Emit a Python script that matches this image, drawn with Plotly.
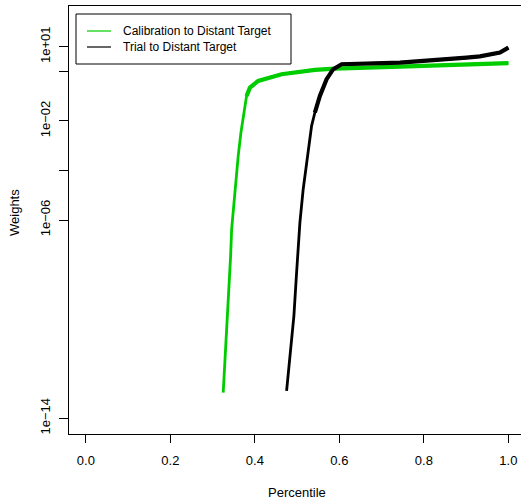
import plotly.graph_objects as go

# Data (percentile, weight)
calib_x = [0.325, 0.331, 0.337, 0.3425, 0.345, 0.3527, 0.3605, 0.3669, 0.3723,
           0.3803, 0.3882, 0.4078, 0.4632, 0.542, 0.589, 0.743, 0.90, 1.0]
calib_logw = [-12.97, -11.22, -9.34, -7.45, -6.37, -4.76, -3.41, -2.47, -1.80,
              -0.99, -0.655, -0.385, -0.114, 0.06, 0.112, 0.19, 0.27, 0.33]

trial_x = [0.475, 0.4828, 0.4923, 0.4987, 0.5065, 0.5143, 0.5262, 0.5342, 0.542,
           0.5538, 0.5697, 0.5853, 0.6052, 0.7432, 0.901, 0.9325, 0.98, 1.0]
trial_logw = [-12.9, -11.49, -9.87, -8.12, -6.105, -4.757, -3.142, -2.2, -1.66,
              -0.99, -0.316, 0.088, 0.29, 0.354, 0.556, 0.604, 0.758, 0.96]

calib_w = [10 ** v for v in calib_logw]
trial_w = [10 ** v for v in trial_logw]

series_names = ["Calibration to Distant Target", "Trial to Distant Target"]
series_colors = ["#00CD00", "#000000"]

x_ticks = [0.0, 0.2, 0.4, 0.6, 0.8, 1.0]
x_ticktext = ["0.0", "0.2", "0.4", "0.6", "0.8", "1.0"]
y_ticks = [1e-14, 1e-6, 1e-4, 1e-2, 1, 10]
y_ticktext = ["1e\u221214", "1e\u221206", "", "1e\u221202", "", "1e+01"]

W, H = 521, 499
L, R_, T, B = 69, 0, 6, 65
pw, ph = W - L - R_, H - T - B

def px(x):
    return (x - L) / pw

def py(y):
    return (H - B - y) / ph

fig = go.Figure()
# full series thin (sparse tail), dense upper part drawn over it thicker
for xs, ws, lw, col, nm in [(calib_x, calib_w, calib_logw, series_colors[0], series_names[0]),
                            (trial_x, trial_w, trial_logw, series_colors[1], series_names[1])]:
    fig.add_trace(go.Scatter(x=xs, y=ws, mode="lines",
                             line=dict(color=col, width=2.8), name=nm, showlegend=False))
    k = next(i for i, v in enumerate(lw) if v > -1.7)
    fig.add_trace(go.Scatter(x=xs[k:], y=ws[k:], mode="lines",
                             line=dict(color=col, width=4.2), name=nm, showlegend=False))

font = dict(family="Liberation Sans, Arial, sans-serif", size=13, color="black")

shapes = [dict(type="rect", xref="paper", yref="paper",
               x0=px(76), x1=px(291), y0=py(64), y1=py(14),
               line=dict(color="black", width=1), fillcolor="white")]
annotations = []
for i, (nm, col) in enumerate(zip(series_names, series_colors)):
    yy = [31, 47][i]
    shapes.append(dict(type="line", xref="paper", yref="paper",
                       x0=px(87), x1=px(111), y0=py(yy), y1=py(yy),
                       line=dict(color=col, width=1.2)))
    annotations.append(dict(xref="paper", yref="paper", x=px(121), y=py(yy),
                            text=nm, showarrow=False, xanchor="left", yanchor="middle",
                            font=dict(family=font["family"], size=12, color="black")))

annotations.append(dict(xref="paper", yref="paper", x=px(86 + 0.5 * 422.5), y=py(492),
                        text="Percentile", showarrow=False, xanchor="center", yanchor="middle",
                        font=font))
annotations.append(dict(xref="paper", yref="paper", x=px(14), y=py(213),
                        text="Weights", showarrow=False, textangle=-90,
                        xanchor="center", yanchor="middle", font=font))

fig.update_layout(
    width=W, height=H,
    margin=dict(l=L, r=R_, t=T, b=B),
    paper_bgcolor="white", plot_bgcolor="white",
    shapes=shapes, annotations=annotations,
    showlegend=False,
    font=font,
)
fig.update_xaxes(range=[-0.04, -0.04 + pw / 422.5], tickvals=x_ticks, ticktext=x_ticktext,
                 showgrid=False, zeroline=False, showline=True, linecolor="black", linewidth=1,
                 mirror=True, ticks="outside", ticklen=8, tickcolor="black", tickfont=font,
                 ticklabelstandoff=6)
fig.update_yaxes(type="log", range=[-14.64, 2.64], tickvals=y_ticks, ticktext=y_ticktext,
                 showgrid=False, zeroline=False, showline=True, linecolor="black", linewidth=1,
                 mirror=False, ticks="outside", ticklen=9, tickcolor="black",
                 tickangle=-90, tickfont=font, ticklabelstandoff=4)

fig.write_html("out.html", config={"displayModeBar": False},
               post_script="document.body.style.margin='0';document.body.style.overflow='hidden';")
